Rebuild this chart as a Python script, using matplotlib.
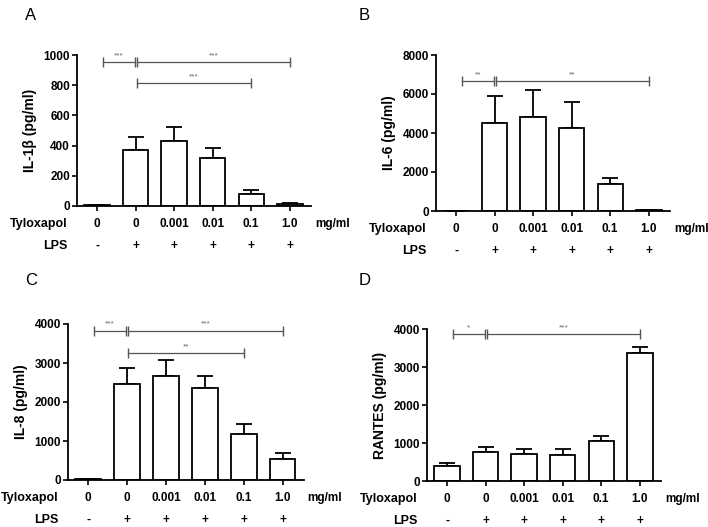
import numpy as np
import matplotlib
matplotlib.use("Agg")
import matplotlib.pyplot as plt

plt.rcParams["font.family"] = ["Liberation Sans", "DejaVu Sans"]

tylox_labels = ["0", "0", "0.001", "0.01", "0.1", "1.0"]
lps_labels = ["-", "+", "+", "+", "+", "+"]

il1b_mean = [5, 370, 430, 320, 80, 15]
il1b_err = [0, 85, 90, 65, 28, 5]

il6_mean = [0, 4500, 4800, 4270, 1370, 40]
il6_err = [0, 1400, 1400, 1330, 340, 10]

il8_mean = [20, 2460, 2670, 2360, 1185, 540]
il8_err = [0, 410, 410, 300, 260, 140]

rantes_mean = [400, 760, 710, 690, 1045, 3370]
rantes_err = [80, 135, 130, 150, 145, 160]

# (start bar, end bar, y, label)
sig_A = [(0, 1, 955, "***"), (1, 5, 955, "***"), (1, 4, 815, "***")]
sig_B = [(0, 1, 6650, "**"), (1, 5, 6650, "**")]
sig_C = [(0, 1, 3830, "***"), (1, 5, 3830, "***"), (1, 4, 3260, "**")]
sig_D = [(0, 1, 3870, "*"), (1, 5, 3870, "***")]

panels = [
    ("A", [77/708, 1-206/527, 234/708, 151/527], il1b_mean, il1b_err,
     "IL-1\u03b2 (pg/ml)", 1000, 200, sig_A),
    ("B", [436/708, 1-211/527, 234/708, 156/527], il6_mean, il6_err,
     "IL-6 (pg/ml)", 8000, 2000, sig_B),
    ("C", [68/708, 1-480/527, 236/708, 156/527], il8_mean, il8_err,
     "IL-8 (pg/ml)", 4000, 1000, sig_C),
    ("D", [427/708, 1-481/527, 234/708, 152/527], rantes_mean, rantes_err,
     "RANTES (pg/ml)", 4000, 1000, sig_D),
]

fig = plt.figure(figsize=(7.08, 5.27), dpi=100)

x = np.arange(6)
for letter, rect, mean, err, ylab, ymax, ystep, sig in panels:
    ax = fig.add_axes(rect)
    ax.bar(x, mean, width=0.66, color="white", edgecolor="black", linewidth=1.3, zorder=2)
    ax.errorbar(x, mean, yerr=[np.zeros(6), err], fmt="none", ecolor="black",
                elinewidth=1.3, capsize=6, capthick=1.3, zorder=1)
    ax.set_xlim(-0.52, 5.55)
    ax.set_ylim(0, ymax)
    ax.set_yticks(np.arange(0, ymax + 1, ystep))
    ax.set_xticks(x)
    ax.set_xticklabels([])
    for s in ["top", "right"]:
        ax.spines[s].set_visible(False)
    for s in ["left", "bottom"]:
        ax.spines[s].set_linewidth(1.3)
    ax.tick_params(axis="both", length=3.5, width=1.2, labelsize=8.5, pad=1.5)
    for lab in ax.get_yticklabels():
        lab.set_fontweight("bold")
    ax.set_ylabel(ylab, fontsize=10, fontweight="bold")
    ax.yaxis.set_label_coords(-0.17, 0.5)

    for x1, x2, y, txt in sig:
        a = x1 + (0.15 if x1 == 0 else 0.03)
        b = x2 - (0.02 if x2 == 1 else 0.0)
        ax.plot([a, b], [y, y], color="#555555", linewidth=0.9,
                marker="|", markersize=7, markeredgewidth=1.0, clip_on=False, zorder=3)
        ax.annotate(txt, xy=((a + b) / 2, y), xytext=(0, 2), textcoords="offset points",
                    ha="center", va="bottom", fontsize=6, color="#666666")

    for i in range(6):
        ax.annotate(tylox_labels[i], xy=(i, 0), xycoords=("data", "axes fraction"),
                    xytext=(0, -13), textcoords="offset points",
                    ha="center", va="center", fontsize=8.5, fontweight="bold")
        ax.annotate(lps_labels[i], xy=(i, 0), xycoords=("data", "axes fraction"),
                    xytext=(0, -29), textcoords="offset points",
                    ha="center", va="center", fontsize=8.5, fontweight="bold")
    ax.annotate("Tyloxapol", xy=(0, 0), xycoords="axes fraction",
                xytext=(-6.5, -13), textcoords="offset points",
                ha="right", va="center", fontsize=9, fontweight="bold")
    ax.annotate("LPS", xy=(0, 0), xycoords="axes fraction",
                xytext=(-6.5, -29), textcoords="offset points",
                ha="right", va="center", fontsize=9, fontweight="bold")
    ax.annotate("mg/ml", xy=(5, 0), xycoords=("data", "axes fraction"),
                xytext=(18, -13), textcoords="offset points",
                ha="left", va="center", fontsize=8.5, fontweight="bold")

    fx = 25/708 if letter in "AC" else 359/708
    fy = 1 - 8/527 if letter in "AB" else 1 - 273/527
    fig.text(fx, fy, letter, fontsize=12, ha="left", va="top")

fig.savefig("out.png", dpi=100)
